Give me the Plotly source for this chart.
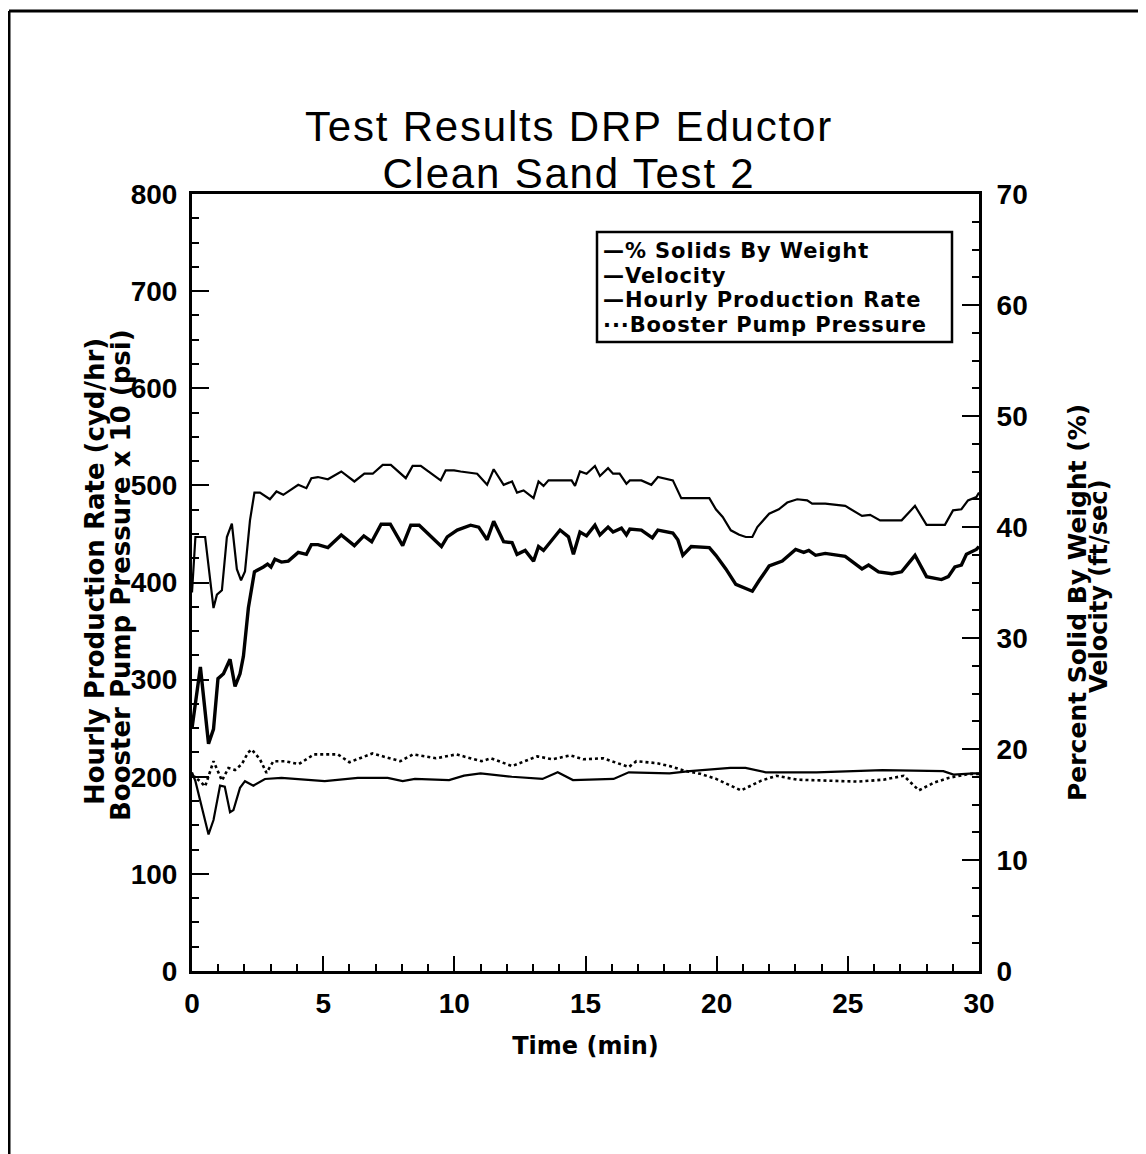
import plotly.graph_objects as go

# ---- data ----
vel_t = [0, 0.13, 0.5, 0.82, 0.95, 1.14, 1.33, 1.52, 1.71, 1.87, 2.02, 2.21, 2.38, 2.59, 2.97,
         3.22, 3.48, 4.05, 4.36, 4.55, 4.80, 5.18, 5.69, 6.19, 6.57, 6.89, 7.27, 7.58, 8.15,
         8.41, 8.72, 9.48, 9.67, 9.99, 10.24, 10.87, 11.25, 11.50, 11.88, 12.20, 12.39, 12.64,
         13.02, 13.21, 13.40, 13.59, 14.47, 14.60, 14.79, 15.04, 15.36, 15.55, 15.86, 16.05,
         16.3, 16.56, 16.69, 17.13, 17.51, 17.76, 18.33, 18.65, 19.09, 19.72, 19.97, 20.23,
         20.54, 20.86, 21.11, 21.36, 21.55, 22.0, 22.37, 22.69, 23.07, 23.45, 23.64, 24.14,
         24.90, 25.54, 25.85, 26.23, 27.05, 27.56, 28.0, 28.70, 29.01, 29.33, 29.58, 29.9, 30.0]
vel_fps = [34.1, 39.1, 39.1, 32.7, 33.9, 34.3, 39.1, 40.3, 36.2, 35.2, 36.0, 40.6, 43.1, 43.1, 42.5,
           43.2, 42.9, 43.8, 43.5, 44.4, 44.5, 44.3, 45.0, 44.1, 44.8, 44.8, 45.6, 45.6, 44.4,
           45.5, 45.5, 44.2, 45.1, 45.1, 45.0, 44.8, 43.8, 45.2, 43.8, 44.1, 43.1, 43.3,
           42.6, 44.1, 43.7, 44.2, 44.2, 43.7, 45.0, 44.8, 45.5, 44.6, 45.3, 44.8,
           44.8, 43.9, 44.2, 44.2, 43.8, 44.5, 44.2, 42.6, 42.6, 42.6, 41.6, 40.9,
           39.7, 39.3, 39.1, 39.1, 40.0, 41.2, 41.6, 42.2, 42.5, 42.4, 42.1, 42.1,
           41.9, 41.0, 41.1, 40.6, 40.6, 41.9, 40.2, 40.2, 41.5, 41.6, 42.4, 42.7, 43.1]

prod_t = [0, 0.32, 0.63, 0.82, 0.99, 1.20, 1.45, 1.64, 1.83, 1.96, 2.15, 2.38, 2.72, 2.88, 3.01,
          3.16, 3.41, 3.67, 4.05, 4.36, 4.55, 4.80, 5.18, 5.69, 6.19, 6.55, 6.85, 7.21, 7.56,
          8.03, 8.34, 8.66, 9.51, 9.73, 10.11, 10.62, 10.93, 11.25, 11.50, 11.88, 12.2, 12.39,
          12.70, 13.02, 13.21, 13.40, 14.03, 14.35, 14.54, 14.79, 15.04, 15.36, 15.55, 15.86,
          16.05, 16.37, 16.56, 16.69, 17.13, 17.55, 17.76, 18.33, 18.52, 18.71, 19.03, 19.72,
          19.97, 20.35, 20.73, 21.11, 21.36, 21.62, 22.0, 22.5, 23.01, 23.32, 23.51, 23.77,
          24.14, 24.90, 25.54, 25.79, 26.17, 26.68, 27.05, 27.56, 28.0, 28.57, 28.83, 29.08,
          29.33, 29.52, 29.9, 30.0]
prod_cydhr = [250, 313, 234, 249, 301, 306, 321, 293, 306, 324, 374, 411, 416, 419, 416,
              424, 421, 422, 431, 429, 439, 439, 436, 449, 438, 448, 442, 460, 460,
              438, 459, 459, 437, 447, 454, 459, 457, 444, 463, 442, 441, 429,
              433, 422, 437, 433, 454, 447, 429, 452, 448, 459, 449, 457,
              452, 456, 449, 455, 454, 446, 454, 451, 444, 428, 437, 436,
              428, 414, 398, 394, 391, 402, 417, 422, 434, 431, 433, 428,
              430, 427, 414, 418, 411, 409, 411, 428, 406, 403, 406, 416,
              418, 429, 434, 437]

solids_t = [0, 0.13, 0.63, 0.82, 1.07, 1.25, 1.45, 1.58, 1.83, 2.02, 2.34, 2.78, 3.41, 4.0,
            5.06, 6.32, 7.46, 8.03, 8.5, 9.8, 10.37, 11.0, 12.19, 13.36, 13.94, 14.52, 16.07,
            16.65, 18.2, 18.97, 19.94, 20.52, 21.1, 21.87, 23.81, 26.32, 28.64, 29.03, 29.8, 30.0]
solids_pct = [17.9, 17.1, 12.3, 13.6, 16.7, 16.6, 14.3, 14.5, 16.5, 17.1, 16.7, 17.3, 17.4, 17.3,
              17.1, 17.4, 17.4, 17.1, 17.3, 17.2, 17.6, 17.8, 17.5, 17.3, 17.9, 17.2, 17.3,
              17.9, 17.8, 18.0, 18.2, 18.3, 18.3, 17.9, 17.9, 18.1, 18.0, 17.7, 17.8, 17.8]

booster_t = [0, 0.1, 0.32, 0.5, 0.82, 1.0, 1.14, 1.39, 1.64, 1.9, 2.14, 2.28, 2.59, 2.84, 3.1,
             3.54, 4.07, 4.65, 5.56, 6.0, 6.88, 7.94, 8.42, 9.3, 10.07, 11.04, 11.4, 12.2,
             13.16, 13.74, 14.42, 14.91, 15.68, 16.65, 16.94, 17.71, 18.2, 18.8, 19.38, 19.96,
             20.54, 20.93, 21.7, 22.28, 23.06, 24.42, 25.39, 26.36, 27.13, 27.71, 28.29, 28.87,
             29.65, 30.0]
booster_psi_x10 = [200, 200, 195, 190, 216, 204, 196, 209, 207, 213, 225, 228, 218, 204, 216,
                   216, 213, 223, 223, 215, 224, 216, 223, 219, 223, 216, 219, 211,
                   221, 218, 222, 218, 219, 210, 216, 214, 211, 206, 203, 198,
                   191, 186, 196, 201, 197, 196, 195, 197, 201, 186, 194, 199,
                   203, 203]

series_names = ["% Solids By Weight", "Velocity", "Hourly Production Rate", "Booster Pump Pressure"]
legend_marks = ["\u2014", "\u2014", "\u2014", "\u00b7\u00b7\u00b7"]
title_lines = ["Test Results DRP Eductor", "Clean Sand Test 2"]
x_ticks = [0, 5, 10, 15, 20, 25, 30]

# ---- layout geometry (pixels) ----
W, H = 1146, 1154
L, R, T, B = 184, 175, 186, 191
PW, PH = W - L - R, H - T - B


def px(x):
    return (x - L) / PW


def py(y):
    return (H - B - y) / PH


BOLD = "DejaVu Sans"
TICKF = dict(family="Liberation Sans", size=28, color="black", weight="bold")

fig = go.Figure()
fig.add_trace(go.Scatter(x=solids_t, y=solids_pct, yaxis="y2", mode="lines",
                         name=series_names[0], line=dict(color="black", width=2.2)))
fig.add_trace(go.Scatter(x=vel_t, y=vel_fps, yaxis="y2", mode="lines",
                         name=series_names[1], line=dict(color="black", width=2.2)))
fig.add_trace(go.Scatter(x=prod_t, y=prod_cydhr, mode="lines",
                         name=series_names[2], line=dict(color="black", width=3.4)))
fig.add_trace(go.Scatter(x=booster_t, y=booster_psi_x10, mode="lines",
                         name=series_names[3], line=dict(color="black", width=2.6, dash="dot")))

axis_common = dict(showline=True, linecolor="black", linewidth=3, ticks="inside",
                   tickcolor="black", tickwidth=2, showgrid=False, zeroline=False,
                   tickfont=TICKF)

fig.update_layout(
    width=W, height=H,
    margin=dict(l=L, r=R, t=T, b=B, autoexpand=False),
    paper_bgcolor="white", plot_bgcolor="white",
    showlegend=False,
    xaxis=dict(range=[0, 30], tickvals=x_ticks, ticklen=15, mirror=True,
               minor=dict(dtick=1, ticklen=7, ticks="inside", tickcolor="black", tickwidth=2),
               ticklabelstandoff=5,
               title=dict(text="Time (min)", standoff=20,
                          font=dict(family=BOLD, size=24, color="black", weight="bold")),
               **axis_common),
    yaxis=dict(range=[0, 800], dtick=100, ticklen=17,
               minor=dict(dtick=25, ticklen=7, ticks="inside", tickcolor="black", tickwidth=2),
               ticklabelstandoff=6,
               **axis_common),
    yaxis2=dict(range=[0, 70], dtick=10, ticklen=17, overlaying="y", side="right",
                minor=dict(dtick=2.5, ticklen=7, ticks="inside", tickcolor="black", tickwidth=2),
                ticklabelstandoff=9,
                **axis_common),
)

# title: one text; base size sets the line pitch, span sets glyph size / spacing
title_text = "<br>".join('<span style="font-size:42px;letter-spacing:1.8px">%s</span>' % t
                         for t in title_lines)
fig.add_annotation(xref="paper", yref="paper", showarrow=False, xanchor="center", yanchor="middle",
                   x=px(561), y=py(142), text=title_text,
                   font=dict(family="Liberation Sans", size=36.3, color="black"))

AXF = dict(family=BOLD, size=26, color="black", weight="bold")
AXF2 = dict(family=BOLD, size=25, color="black", weight="bold")
AXF3 = dict(family=BOLD, size=24, color="black", weight="bold")
ann = [
    dict(text="Hourly Production Rate (cyd/hr)", x=px(87), y=py(564), font=AXF, textangle=-90),
    dict(text="Booster Pump Pressure x 10 (psi)", x=px(113), y=py(567), font=AXF, textangle=-90),
    dict(text="Percent Solid By Weight (%)", x=px(1069), y=py(595), font=AXF2, textangle=-90),
    dict(text="Velocity (ft/sec)", x=px(1091), y=py(578), font=AXF3, textangle=-90),
]
for a in ann:
    fig.add_annotation(xref="paper", yref="paper", showarrow=False,
                       xanchor="center", yanchor="middle", **a)

# legend box drawn as in the original (dash glyph + name per row)
leg_x0, leg_x1, leg_y0, leg_y1 = 589, 944, 224, 334
fig.add_shape(type="rect", xref="paper", yref="paper",
              x0=px(leg_x0), x1=px(leg_x1), y0=py(leg_y1), y1=py(leg_y0),
              line=dict(color="black", width=2.5), fillcolor="white")
legend_text = "<br>".join('<span style="font-size:21px;letter-spacing:0.9px">%s%s</span>' % (m, n)
                          for m, n in zip(legend_marks, series_names))
fig.add_annotation(xref="paper", yref="paper", showarrow=False, xanchor="left", yanchor="middle",
                   align="left", x=px(593), y=py(280), text=legend_text,
                   font=dict(family=BOLD, size=18.9, color="black", weight="bold"))

# outer page frame (left and top edges)
fig.add_shape(type="line", xref="paper", yref="paper", x0=px(1), x1=px(1), y0=py(3), y1=py(H + 5),
              line=dict(color="black", width=3))
fig.add_shape(type="line", xref="paper", yref="paper", x0=px(1), x1=px(W + 5), y0=py(3), y1=py(3),
              line=dict(color="black", width=3))

fig.write_html("out.html")
